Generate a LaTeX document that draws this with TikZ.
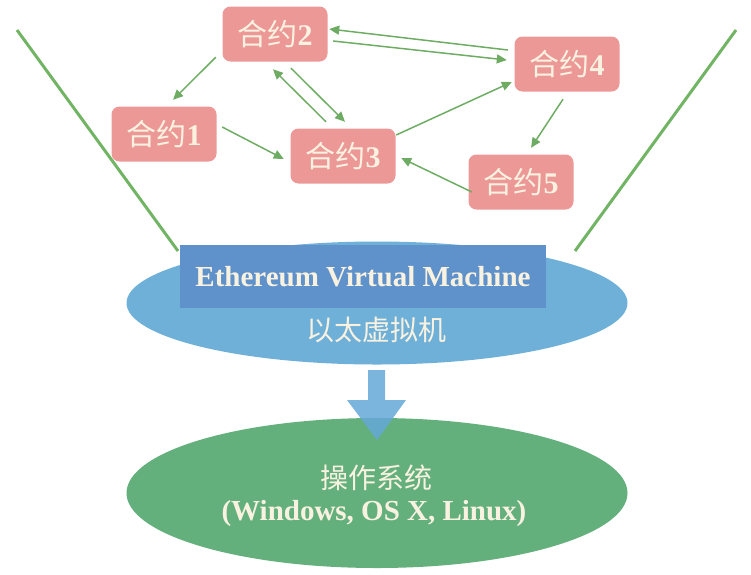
\documentclass[tikz,border=0pt]{standalone}
\usepackage{fontspec}
\setmainfont{Liberation Serif}
\newfontfamily\cjk{Noto Sans CJK SC}
\usetikzlibrary{arrows.meta,shapes.geometric}
\definecolor{pinkfill}{RGB}{235,152,150}
\definecolor{cream}{RGB}{250,242,225}
\definecolor{arrgreen}{RGB}{110,172,100}
\definecolor{linegreen}{RGB}{112,180,100}
\definecolor{evmblue}{RGB}{110,176,216}
\definecolor{evmrect}{RGB}{95,145,202}
\definecolor{osgreen}{RGB}{100,176,125}
\definecolor{downblue}{RGB}{100,168,215}
\tikzset{
  contract/.style={draw=none, fill=pinkfill, rounded corners=8pt, minimum width=105pt, minimum height=55pt, inner sep=0pt, text=cream, font=\fontsize{30}{32}\selectfont\cjk},
  arr/.style={draw=arrgreen, line width=1.5pt, -{Triangle[length=10pt,width=9pt]}},
  bigline/.style={draw=linegreen, line width=3pt},
  cream text/.style={text=cream, align=center}
}
\begin{document}
\begin{tikzpicture}[x=1pt,y=-1pt]
\useasboundingbox (0,0) rectangle (751,574);
% big lines
\coordinate (lt) at (17,30);
\coordinate (lb) at (178,251);
\coordinate (rt) at (736,30);
\coordinate (rb) at (575,251);
\draw[bigline] (lt) -- (lb);
\draw[bigline] (rt) -- (rb);
% contracts
\node[contract] (n2) at (275,34) {合约\textbf{\rmfamily 2}};
\node[contract] (n1) at (164,134) {合约\textbf{\rmfamily 1}};
\node[contract] (n3) at (343,156) {合约\textbf{\rmfamily 3}};
\node[contract] (n4) at (567,64) {合约\textbf{\rmfamily 4}};
\node[contract] (n5) at (521,182) {合约\textbf{\rmfamily 5}};
% connectors
\draw[arr] ([shift={(-6.5,-4.5)}]n2.south west) -- ([shift={(9,-6.5)}]n1.north);
\draw[arr] ([shift={(5.5,-7)}]n1.east) -- ([shift={(-6.5,3)}]n3.west);
\draw[arr] ([shift={(-17,-6.5)}]n3.north) -- ([shift={(-2,7.5)}]n2.south);
\draw[arr] ([shift={(16,6.5)}]n2.south) -- ([shift={(2,-6.5)}]n3.north);
\draw[arr] ([shift={(-6.5,-14)}]n4.west) -- ([shift={(1.5,-5)}]n2.east);
\draw[arr] ([shift={(5.5,7)}]n2.east) -- ([shift={(-7.5,-4)}]n4.west);
\draw[arr] ([shift={(0.5,-21)}]n3.east) -- ([shift={(-2.5,18)}]n4.west);
\draw[arr] ([shift={(-4,7.5)}]n4.south) -- ([shift={(10,-6.5)}]n5.north);
\draw[arr] ([shift={(3.5,10)}]n5.west) -- ([shift={(5.5,2)}]n3.east);
% EVM
\node[ellipse, fill=evmblue, minimum width=501pt, minimum height=123pt, inner sep=0pt] (evm) at (377,303) {};
\node[fill=evmrect, minimum width=366pt, minimum height=63pt, inner sep=0pt, text=cream, font=\fontsize{29}{30}\selectfont\bfseries] (evmt) at (363,276.5) {Ethereum Virtual Machine};
\node[cream text, font=\fontsize{28}{30}\selectfont\cjk] (evmc) at (376,330) {以太虚拟机};
% OS
\node[ellipse, fill=osgreen, minimum width=501pt, minimum height=150pt, inner sep=0pt] (os) at (377,493) {};
\node[cream text, font=\fontsize{28}{30}\selectfont\cjk] (osc) at (376,478) {操作系统};
\node[cream text, font=\fontsize{29}{30}\selectfont\bfseries] (ost) at (374,514) {(Windows, OS X, Linux)};
% down arrow
\fill[downblue, opacity=0.85] (368,370) -- (385,370) -- (385,400) -- (406,400) -- (377,440) -- (347,400) -- (368,400) -- cycle;
\end{tikzpicture}
\end{document}
